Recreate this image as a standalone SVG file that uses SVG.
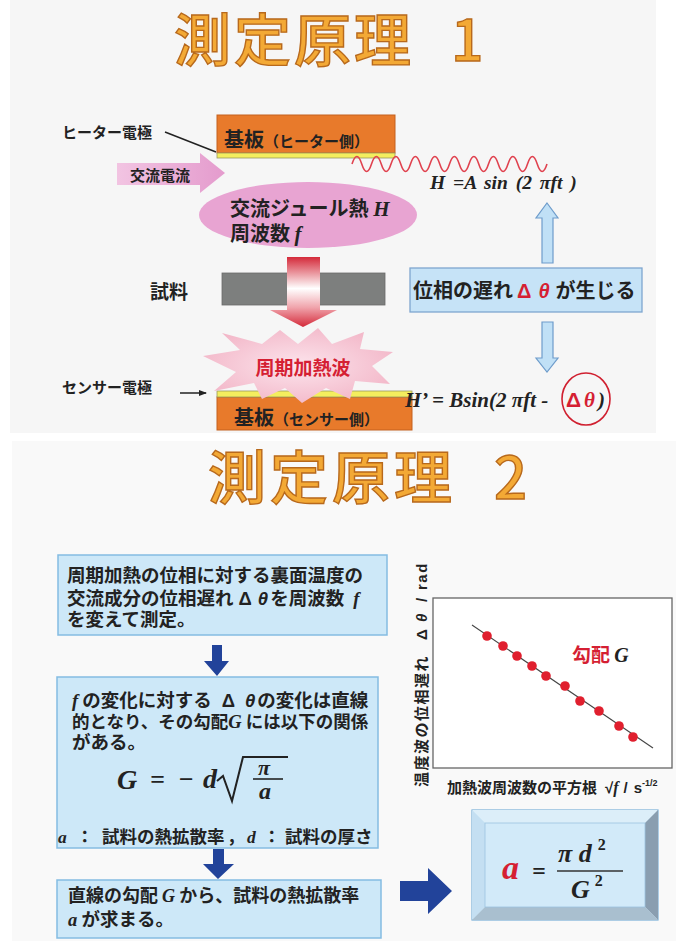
<svg xmlns="http://www.w3.org/2000/svg" width="688" height="941" viewBox="0 0 688 941">
<defs>
<style>
.jp{font-family:"Noto Sans CJK JP","Noto Sans",sans-serif;font-weight:700;fill:#222}
.title{font-family:"Noto Sans CJK JP",sans-serif;font-weight:500;fill:#F3A935;stroke:#B8691C;stroke-width:1.4}
.math{font-family:"Liberation Serif","Times New Roman",serif;font-style:italic;font-weight:700;fill:#222}
.gk{font-family:"Liberation Sans",Arial,sans-serif;font-weight:700}
.red{fill:#D51F33}
.bluebox{fill:#CDE8F8;stroke:#84BCE2;stroke-width:1.5}
.darrow{fill:#22439A}
.larrow{fill:#C0E0F6;stroke:#6E9CCB;stroke-width:1.2}
.sub{fill:#E87A2B;stroke:#C4611E;stroke-width:1}
.yel{fill:#F4EE5E;stroke:#9A9A60;stroke-width:0.8}
.dot{fill:#E01F2E}
</style>
<linearGradient id="pinkArrow" x1="0" y1="0" x2="1" y2="0">
<stop offset="0" stop-color="#F2C4E2"/><stop offset="1" stop-color="#E49BCD"/>
</linearGradient>
<linearGradient id="redArrow" x1="0" y1="257" x2="0" y2="327" gradientUnits="userSpaceOnUse">
<stop offset="0" stop-color="#D42A3A"/><stop offset="0.45" stop-color="#FFFFFF"/><stop offset="0.72" stop-color="#F0A4AC"/><stop offset="1" stop-color="#D42A3A"/>
</linearGradient>
<radialGradient id="starGrad" cx="0.5" cy="0.5" r="0.6">
<stop offset="0" stop-color="#FCE4EC"/><stop offset="1" stop-color="#F2B4C6"/>
</radialGradient>
<marker id="ah" markerWidth="8" markerHeight="8" refX="7" refY="4" orient="auto" markerUnits="userSpaceOnUse">
<path d="M0,1 L8,4 L0,7 Z" fill="#222"/>
</marker>
</defs>

<rect width="688" height="941" fill="#ffffff"/>
<rect x="10" y="0" width="646" height="433" fill="#f6f6f6"/>
<rect x="12" y="441" width="664" height="500" fill="#f9f9f9"/>

<!-- Titles -->
<g id="title1"><text class="title" x="174" y="61" font-size="57"><tspan letter-spacing="3">測定原理</tspan><tspan letter-spacing="-20">　1</tspan></text></g>
<g id="title2"><text class="title" x="208" y="499" font-size="58"><tspan letter-spacing="4">測定原理</tspan><tspan letter-spacing="-20">　2</tspan></text></g>

<!-- Top diagram -->
<g id="heater-label"><text class="jp" x="62" y="138" font-size="15">ヒーター電極</text></g>
<g id="heater-substrate">
<rect class="sub" x="217" y="115" width="178" height="38"/>
<rect class="yel" x="217" y="153" width="178" height="5"/>
<text class="jp" x="224" y="147" font-size="20" font-weight="500" fill="#2a2a2a">基板<tspan font-size="15" font-weight="700">（ヒーター側）</tspan></text>
</g>
<g id="ac-current">
<polygon points="117,163 200,163 200,153 225,173 200,193 200,185 117,185" fill="url(#pinkArrow)"/>
<text class="jp" x="130" y="181" font-size="15">交流電流</text>
</g>
<g id="heat-wave">
<path d="M352,164 q4.875,-15 9.75,0 t9.75,0 t9.75,0 t9.75,0 t9.75,0 t9.75,0 t9.75,0 t9.75,0 t9.75,0 t9.75,0 t9.75,0 t9.75,0 t9.75,0 t9.75,0 t9.75,0 t9.75,0 t9.75,0 t9.75,0 t9.75,0 t9.75,0" fill="none" stroke="#E0424F" stroke-width="1.6"/>
<text class="math" x="430" y="189" font-size="19.5" word-spacing="3">H =A sin (2 πft )</text>
</g>
<g id="joule-heat">
<ellipse cx="308" cy="215" rx="109" ry="33" fill="#E8A4D2"/>
<text class="jp" x="230" y="216" font-size="20" font-weight="500">交流ジュール熱 <tspan class="math" font-size="21">H</tspan></text>
<text class="jp" x="230" y="241" font-size="20" font-weight="500">周波数 <tspan class="math" font-size="21">f</tspan></text>
</g>
<g id="sample-label"><text class="jp" x="150" y="299" font-size="19">試料</text></g>
<g id="sample">
<rect x="222" y="273" width="163" height="32" fill="#7D7F7E" stroke="#6a6a6a" stroke-width="0.8"/>
<polygon points="287,257 320,257 320,310 337,310 303,327 270,310 287,310" fill="url(#redArrow)"/>
</g>
<g id="sensor-label"><text class="jp" x="62" y="393" font-size="15">センサー電極</text></g>
<g id="sensor-substrate">
<rect class="sub" x="217" y="397" width="195" height="33"/>
<rect class="yel" x="217" y="391" width="195" height="6"/>
<text class="jp" x="234" y="425" font-size="20" font-weight="500" fill="#2a2a2a">基板<tspan font-size="15" font-weight="700">（センサー側）</tspan></text>
</g>
<g id="periodic-wave">
<polygon points="203,356 240,350 222,333 262,344 280,330 298,344 318,328 332,344 364,332 360,349 393,352 372,366 390,384 355,381 350,399 326,388 302,403 285,388 262,399 254,383 214,391 236,372" fill="url(#starGrad)"/>
<text class="jp red" x="303" y="375" font-size="19" text-anchor="middle">周期加熱波</text>
</g>
<g id="phase-lag">
<rect x="410" y="268" width="232" height="44" fill="#C6E3F7" stroke="#7FA6CF" stroke-width="1.3"/>
<text class="jp" x="413" y="298" font-size="20" font-weight="500">位相の遅れ<tspan class="gk red" dx="4" font-weight="400">Δ</tspan><tspan class="gk red" dx="7" font-style="italic" font-weight="400">θ</tspan><tspan dx="6">が生じる</tspan></text>
</g>
<g id="response">
<text class="math" x="405" y="407" font-size="21">H’ = Bsin(2 πft -<tspan class="gk red" x="566" font-style="normal" font-weight="400">Δ</tspan><tspan class="red" x="584">θ</tspan><tspan x="598">)</tspan></text>
<ellipse cx="586" cy="399" rx="24" ry="26" fill="none" stroke="#D02030" stroke-width="1.6"/>
</g>

<g id="connectors">
<line x1="165" y1="132" x2="216" y2="152" stroke="#222" stroke-width="1.5"/>
<line x1="180" y1="393" x2="206" y2="393" stroke="#222" stroke-width="1.5" marker-end="url(#ah)"/>
<polygon class="larrow" points="547,203 558,218 553,218 553,263 542,263 542,218 536,218"/>
<polygon class="larrow" points="542,322 553,322 553,358 558,358 547,372 536,358 542,358"/>
<polygon class="darrow" points="212,645 222,645 222,661 229,661 217,676 204,661 212,661"/>
<polygon class="darrow" points="213,849 224,849 224,864 234,864 218,879 203,864 213,864"/>
<polygon class="darrow" points="400,881 428,881 428,868 452,891 428,914 428,901 400,901"/>
</g>

<!-- Bottom -->
<g id="step1">
<rect class="bluebox" x="58" y="555" width="329" height="80"/>
<text class="jp" x="67" y="582" font-size="18.5">周期加熱の位相に対する裏面温度の</text>
<text class="jp" x="67" y="605" font-size="18.5">交流成分の位相遅れ<tspan class="gk" dx="5" font-weight="400">Δ</tspan><tspan class="gk" dx="6" font-style="italic" font-weight="400">θ</tspan><tspan dx="2">を周波数</tspan><tspan class="math" dx="9">f</tspan></text>
<text class="jp" x="67" y="626" font-size="18.5">を変えて測定。</text>
</g>
<g id="step2">
<rect class="bluebox" x="57" y="677" width="321" height="171"/>
<text class="jp" x="72" y="707" font-size="18.5"><tspan class="math">f</tspan><tspan dx="4">の変化に対する</tspan><tspan class="gk" dx="10" font-weight="400">Δ</tspan><tspan class="gk" dx="10" font-style="italic" font-weight="400">θ</tspan><tspan dx="2">の変化は直線</tspan></text>
<text class="jp" x="72" y="728" font-size="17.5">的となり、その勾配<tspan class="math" font-weight="400" font-size="18.5">G</tspan><tspan dx="4">には以下の関係</tspan></text>
<text class="jp" x="72" y="749" font-size="18.5">がある。</text>
<text class="math" x="117" y="789" font-size="28" font-style="normal">G</text>
<text class="math" x="150" y="788" font-size="26" font-style="normal" font-weight="400">=</text>
<text class="math" x="178" y="788" font-size="26" font-style="normal" font-weight="400">−</text>
<text class="math" x="203" y="788" font-size="28">d</text>
<path d="M217,781 L223,776 L232,801 L243,757 L288,757" fill="none" stroke="#222" stroke-width="2"/>
<text class="math" x="258" y="775" font-size="22" font-style="normal">π</text>
<line x1="253" y1="779" x2="283" y2="779" stroke="#222" stroke-width="1.6"/>
<text class="math" x="259" y="799" font-size="24">a</text>
<text class="jp" x="58" y="843" font-size="17.5"><tspan class="math">a</tspan><tspan x="76">：</tspan><tspan x="102">試料の熱拡散率</tspan><tspan x="227">，</tspan><tspan class="math" x="247">d</tspan><tspan x="263">：</tspan><tspan x="285">試料の厚さ</tspan></text>
</g>
<g id="step3">
<rect class="bluebox" x="57" y="880" width="324" height="58"/>
<text class="jp" x="68" y="902" font-size="18">直線の勾配 <tspan class="math" font-weight="400">G</tspan> から、試料の熱拡散率</text>
<text class="jp" x="68" y="926" font-size="18.5"><tspan class="math">a</tspan> が求まる。</text>
</g>
<g id="graph">
<rect x="433" y="598" width="239" height="170" fill="#ffffff" stroke="#666" stroke-width="1.3"/>
<line x1="472" y1="625" x2="653" y2="748" stroke="#444" stroke-width="1.1"/>
<circle class="dot" cx="487" cy="636" r="4.8"/>
<circle class="dot" cx="503" cy="646" r="4.8"/>
<circle class="dot" cx="517" cy="656" r="4.8"/>
<circle class="dot" cx="532" cy="666" r="4.8"/>
<circle class="dot" cx="546" cy="676" r="4.8"/>
<circle class="dot" cx="565" cy="686" r="4.8"/>
<circle class="dot" cx="580" cy="701" r="4.8"/>
<circle class="dot" cx="599" cy="711" r="4.8"/>
<circle class="dot" cx="619" cy="726" r="4.8"/>
<circle class="dot" cx="633" cy="737" r="4.8"/>
<text class="jp red" x="572" y="662" font-size="19">勾配 <tspan class="math" font-size="20">G</tspan></text>
<text class="jp" transform="translate(427,787) rotate(-90)" font-size="15" letter-spacing="1.5">温度波の位相遅れ<tspan class="gk" x="147" font-weight="400">Δ</tspan><tspan class="gk" x="165" font-style="italic" font-weight="400">θ</tspan><tspan class="gk" x="185" font-weight="400">/</tspan><tspan class="gk" x="197" font-weight="400">rad</tspan></text>
<text class="jp" x="447" y="793" font-size="15">加熱波周波数の平方根</text>
<text class="gk" x="605" y="793" font-size="15" font-weight="400" fill="#222">√<tspan class="math" font-size="16" font-weight="400">f</tspan><tspan dx="5">/</tspan><tspan dx="6">s</tspan><tspan font-size="9" dy="-7">-1/2</tspan></text>
</g>
<g id="result">
<rect x="472" y="810" width="186" height="110" fill="#D2EAF9" stroke="#7AB0D8" stroke-width="1.2"/>
<polygon points="472,810 658,810 645,823 485,823" fill="#DCEEF9"/>
<polygon points="472,810 485,823 485,907 472,920" fill="#C4DFF2"/>
<polygon points="658,810 658,920 645,907 645,823" fill="#8A9EB0"/>
<polygon points="472,920 658,920 645,907 485,907" fill="#A9BFCF"/>
<rect x="485" y="823" width="160" height="84" fill="#D2EAF9" stroke="#9CC4E0" stroke-width="0.8"/>
<text class="math" x="502" y="879" font-size="34" style="fill:#D51F33">a</text>
<text class="math" x="532" y="879" font-size="24" font-style="normal" font-weight="400">=</text>
<text class="math" x="558" y="862" font-size="26" font-weight="400">π d<tspan font-size="16" dx="6" dy="-12" font-style="normal">2</tspan></text>
<line x1="557" y1="871" x2="623" y2="871" stroke="#333" stroke-width="1.5"/>
<text class="math" x="571" y="898" font-size="26" font-weight="400">G<tspan font-size="16" dx="5" dy="-12" font-style="normal">2</tspan></text>
</g>
</svg>
